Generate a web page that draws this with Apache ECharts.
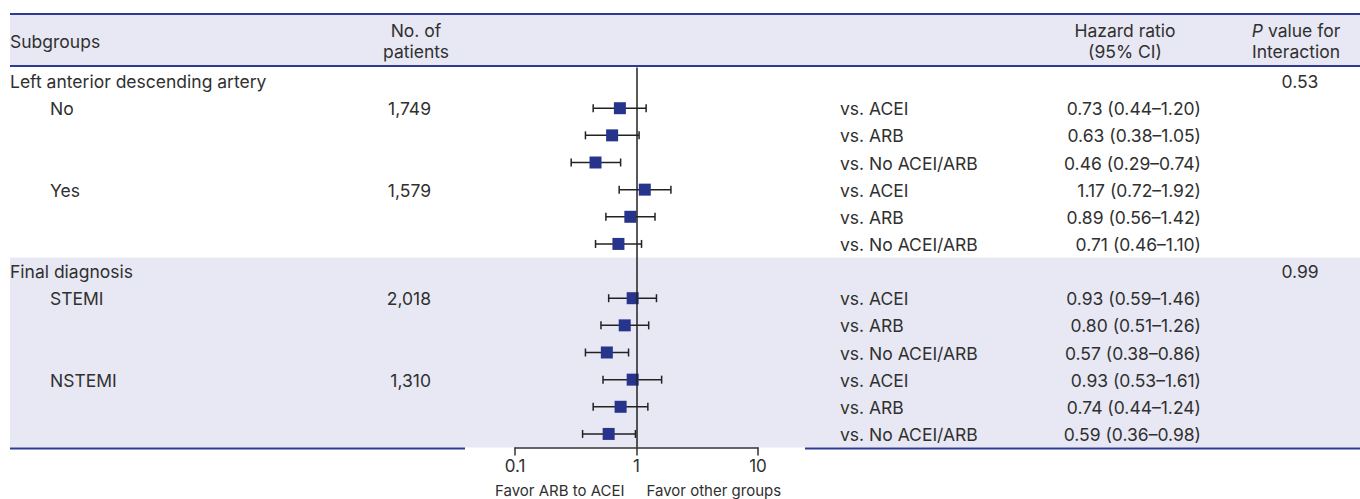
<!DOCTYPE html>
<html><head><meta charset="utf-8">
<script src="https://cdn.jsdelivr.net/npm/echarts@6/dist/echarts.min.js"></script>
<style>html,body{margin:0;padding:0;background:#fff}#c{width:1360px;height:499px}</style>
</head><body><div id="c"></div>
<script>
// ---- data ----
const groups = ['Left anterior descending artery', 'Final diagnosis'];
const pInteraction = ['0.53', '0.99'];
const subgroups = ['No', 'Yes', 'STEMI', 'NSTEMI'];
const subgroupGroup = [0, 0, 1, 1];
const patients = ['1,749', '1,579', '2,018', '1,310'];
const comparisons = ['vs. ACEI', 'vs. ARB', 'vs. No ACEI/ARB'];
const hr    = [0.73, 0.63, 0.46, 1.17, 0.89, 0.71, 0.93, 0.80, 0.57, 0.93, 0.74, 0.59];
const lower = [0.44, 0.38, 0.29, 0.72, 0.56, 0.46, 0.59, 0.51, 0.38, 0.53, 0.44, 0.36];
const upper = [1.20, 1.05, 0.74, 1.92, 1.42, 1.10, 1.46, 1.26, 0.86, 1.61, 1.24, 0.98];
const xTickLabels = ['0.1', '1', '10'];
const favorLeft = 'Favor ARB to ACEI';
const favorRight = 'Favor other groups';
const headSubgroups = 'Subgroups';
const headPatients = ['No. of', 'patients'];
const headHR = ['Hazard ratio', '(95% CI)'];
const headP = ['{i|P} value for', 'Interaction'];

// ---- styles ----
const FF = 'Inter, "Noto Sans", sans-serif';
const FS = 17.5;
const FONT = FS + 'px ' + FF;
const SFS = 15;
const SFONT = SFS + 'px ' + FF;
const TXT = '#303030';
const NAVY = '#2e3b92';
const BAND = '#e8e8f4';
const MARK = '#27348b';
const COL = { group: 10, sub: 50, n: 431, vs: 840, hr: 1201, p: 1300 };

// ---- rows model ----
const rows = [];
let k = 0;
groups.forEach((g, gi) => {
  rows.push({ kind: 'group', gi: gi, text: g, p: pInteraction[gi] });
  subgroups.forEach((s, si) => {
    if (subgroupGroup[si] !== gi) return;
    comparisons.forEach((c, ci) => {
      rows.push({ kind: 'item', gi: gi, sub: ci === 0 ? s : '', n: ci === 0 ? patients[si] : '', vs: c, k: k });
      k++;
    });
  });
});
const nRows = rows.length;
const fmt = v => v.toFixed(2);
const forestData = [];
rows.forEach((r, i) => { if (r.kind === 'item') forestData.push([hr[r.k], lower[r.k], upper[r.k], i]); });
const bandData = [];
rows.forEach((r, i) => {
  if (r.kind === 'group' && r.gi % 2 === 1) {
    let end = nRows;
    for (let j = i + 1; j < nRows; j++) if (rows[j].kind === 'group') { end = j; break; }
    bandData.push([1, i - 0.5, end - 0.5]);
  }
});

function txt(x, y, text, align, font, extra) {
  return Object.assign({
    type: 'text', x: x, y: y,
    style: { text: text, fill: TXT, font: font || FONT, align: align, textAlign: align, verticalAlign: 'middle', textVerticalAlign: 'middle' }
  }, extra || {});
}

const chart = echarts.init(document.getElementById('c'), null, { renderer: 'svg' });
chart.setOption({
  animation: false,
  backgroundColor: '#fff',
  grid: { left: 515, right: 602, top: 67.5, bottom: 51.5, containLabel: false, outerBoundsMode: 'none' },
  xAxis: {
    type: 'log', logBase: 10, min: 0.1, max: 10, z: 5, position: 'bottom',
    axisLine: { show: true, onZero: false, lineStyle: { color: '#333', width: 1.5 } },
    axisTick: { show: true, inside: false, length: 8, lineStyle: { color: '#333', width: 1.5 } },
    axisLabel: { color: TXT, fontFamily: FF, fontSize: 17, margin: 10,
      formatter: v => xTickLabels[Math.round(Math.log10(v)) + 1] },
    splitLine: { show: false }, minorTick: { show: false }
  },
  yAxis: { type: 'value', min: -0.5, max: nRows - 0.5, inverse: true, show: false },
  graphic: [
    { type: 'rect', shape: { x: 10, y: 14, width: 1350, height: 52 }, style: { fill: BAND }, z: 0 },
    { type: 'line', shape: { x1: 10, y1: 14, x2: 1360, y2: 14 }, style: { stroke: NAVY, lineWidth: 2 }, z: 1 },
    { type: 'line', shape: { x1: 10, y1: 66, x2: 1360, y2: 66 }, style: { stroke: NAVY, lineWidth: 2 }, z: 1 },
    { type: 'line', shape: { x1: 10, y1: 448.5, x2: 465, y2: 448.5 }, style: { stroke: NAVY, lineWidth: 2 }, z: 1 },
    { type: 'line', shape: { x1: 805, y1: 448.5, x2: 1360, y2: 448.5 }, style: { stroke: NAVY, lineWidth: 2 }, z: 1 },
    txt(COL.group, 41, headSubgroups, 'left', FONT, { z: 2 }),
    txt(416, 30, headPatients[0], 'center', FONT, { z: 2 }),
    txt(416, 51, headPatients[1], 'center', FONT, { z: 2 }),
    txt(1125, 30, headHR[0], 'center', FONT, { z: 2 }),
    txt(1125, 51, headHR[1], 'center', FONT, { z: 2 }),
    { type: 'text', x: 1296, y: 30, z: 2, style: { text: headP[0], fill: TXT, font: FONT, align: 'center', verticalAlign: 'middle',
      rich: { i: { fontStyle: 'italic', fontFamily: FF, fontSize: FS, fill: TXT } } } },
    txt(1296, 51, headP[1], 'center', FONT, { z: 2 })
  ],
  series: [
    {
      type: 'custom', name: 'band', z: 0, silent: true,
      data: bandData, encode: { x: 0, y: [1, 2] },
      renderItem: (params, api) => {
        const s = api.coord([1, api.value(1)]);
        const e = api.coord([1, api.value(2)]);
        return { type: 'rect', shape: { x: 10, y: s[1], width: 1350, height: e[1] - s[1] }, style: { fill: BAND } };
      }
    },
    {
      type: 'custom', name: 'table', z: 3, silent: true,
      data: rows.map((r, i) => [1, i]), encode: { x: 0, y: 1 },
      renderItem: (params, api) => {
        const r = rows[params.dataIndex];
        const y = api.coord([1, api.value(1)])[1] + 0.5;
        const ch = [];
        if (r.kind === 'group') {
          ch.push(txt(COL.group, y, r.text, 'left'));
          ch.push(txt(COL.p, y, r.p, 'center'));
        } else {
          if (r.sub) ch.push(txt(COL.sub, y, r.sub, 'left'));
          if (r.n) ch.push(txt(COL.n, y, r.n, 'right'));
          ch.push(txt(COL.vs, y, r.vs, 'left'));
          ch.push(txt(COL.hr, y, fmt(hr[r.k]) + ' (' + fmt(lower[r.k]) + '\u2013' + fmt(upper[r.k]) + ')', 'right'));
        }
        return { type: 'group', children: ch };
      }
    },
    {
      type: 'custom', name: 'forest', z: 4, silent: true,
      data: forestData, encode: { x: [0, 1, 2], y: 3 },
      renderItem: (params, api) => {
        const y = api.coord([1, api.value(3)])[1];
        const xm = api.coord([api.value(0), 0])[0];
        const xl = api.coord([api.value(1), 0])[0];
        const xh = api.coord([api.value(2), 0])[0];
        const ls = { stroke: '#222', lineWidth: 1.5 };
        return { type: 'group', children: [
          { type: 'line', shape: { x1: xl, y1: y, x2: xh, y2: y }, style: ls },
          { type: 'line', shape: { x1: xl, y1: y - 4, x2: xl, y2: y + 4 }, style: ls },
          { type: 'line', shape: { x1: xh, y1: y - 4, x2: xh, y2: y + 4 }, style: ls },
          { type: 'rect', shape: { x: xm - 6, y: y - 6, width: 12, height: 12 }, style: { fill: MARK } }
        ] };
      },
      markLine: { silent: true, symbol: ['none', 'none'], label: { show: false },
        lineStyle: { color: '#222', width: 1.5, type: 'solid' }, data: [{ xAxis: 1 }] }
    },
    {
      type: 'custom', name: 'favor', z: 3, silent: true,
      data: [[1, nRows - 0.5]], encode: { x: 0, y: 1 },
      renderItem: (params, api) => {
        const p = api.coord([api.value(0), api.value(1)]);
        return { type: 'group', children: [
          txt(p[0] - 12, p[1] + 43, favorLeft, 'right', SFONT),
          txt(p[0] + 10, p[1] + 43, favorRight, 'left', SFONT)
        ] };
      }
    }
  ]
});
</script></body></html>
